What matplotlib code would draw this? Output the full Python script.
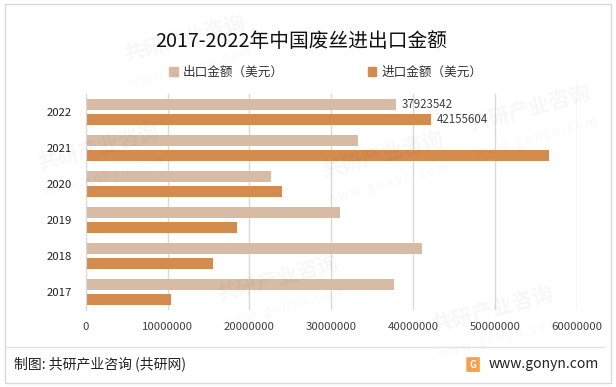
import matplotlib
matplotlib.use('Agg')
import matplotlib.pyplot as plt
import numpy as np
from matplotlib.patches import Rectangle, FancyBboxPatch
from matplotlib.lines import Line2D

plt.rcParams['font.family'] = ['Noto Sans CJK SC', 'DejaVu Sans']

years = ['2017', '2018', '2019', '2020', '2021', '2022']
export_vals = [37600000, 41000000, 31100000, 22600000, 33300000, 37923542]
import_vals = [10400000, 15500000, 18500000, 24000000, 56600000, 42155604]
labels = ['出口金额（美元）', '进口金额（美元）']
title = '2017-2022年中国废丝进出口金额'

C_EXP = '#D7BBA5'
C_IMP = '#D48C4E'

fig = plt.figure(figsize=(6.16, 3.87), dpi=100)
ax = fig.add_axes([0.139, 0.199, 0.798, 0.558])

y = np.arange(len(years))
ax.barh(y + 0.21, export_vals, height=0.30, color=C_EXP, zorder=2, label=labels[0])
ax.barh(y - 0.21, import_vals, height=0.30, color=C_IMP, zorder=2, label=labels[1])

# data labels only on the last year
ax.text(export_vals[-1] + 700000, y[-1] + 0.21, '37923542', va='center', ha='left',
        fontsize=8.3, color='#404040')
ax.text(import_vals[-1] + 700000, y[-1] - 0.21, '42155604', va='center', ha='left',
        fontsize=8.3, color='#404040')

ax.set_xlim(0, 60000000)
ax.set_ylim(-0.5, 5.5)
ax.set_xticks(np.arange(0, 60000001, 10000000))
ax.set_xticklabels([str(v) for v in range(0, 60000001, 10000000)])
ax.set_yticks(y)
ax.set_yticklabels(years)
ax.tick_params(axis='both', length=0, labelsize=8.2, colors='#404040')
ax.tick_params(axis='y', labelcolor='#222222')
ax.tick_params(axis='x', pad=9)
ax.tick_params(axis='y', pad=10)
ax.grid(axis='x', color='#D9D9D9', linewidth=1, zorder=0)
for s in ax.spines.values():
    s.set_visible(False)
ax.spines['left'].set_visible(True)
ax.spines['left'].set_color('#D9D9D9')

fig.text(0.489, 0.892, title, ha='center', va='center', fontsize=14.2, color='#111111')

# legend
handles = [Rectangle((0, 0), 1, 1, color=C_EXP), Rectangle((0, 0), 1, 1, color=C_IMP)]
fig.legend(handles, labels, loc='center', bbox_to_anchor=(0.529, 0.813), ncol=2,
           frameon=False, fontsize=9.1, handlelength=0.7, handleheight=0.7,
           handletextpad=0.4, columnspacing=6.6, labelcolor='#333333')

# faint watermarks
for (wx, wy) in [(0.16, 0.62), (0.45, 0.28), (0.62, 0.6), (0.86, 0.72), (0.3, 0.9), (0.8, 0.2)]:
    fig.text(wx, wy, '共研产业咨询', fontsize=15, fontweight='bold', color='#000000',
             alpha=0.035, rotation=15, ha='center', va='center', zorder=10)
    fig.text(wx + 0.01, wy - 0.075, 'w w w . g o n y n . c o m', fontsize=8.5, color='#000000',
             alpha=0.035, rotation=15, ha='center', va='center', zorder=10)

# border and footer
fig.patches.append(Rectangle((0.008, 0.010), 0.984, 0.980, transform=fig.transFigure,
                             fill=False, edgecolor='#D9D9D9', linewidth=1))
fig.lines.append(Line2D([0.01, 0.98], [0.103, 0.103], transform=fig.transFigure,
                        color='#E3E3E3', linewidth=1))
fig.text(0.023, 0.059, '制图: 共研产业咨询 (共研网)', ha='left', va='center',
         fontsize=10, color='#222222')
fig.patches.append(FancyBboxPatch((0.758, 0.040), 0.020, 0.036, transform=fig.transFigure,
                                  boxstyle='round,pad=0.001', facecolor='#F5A04A',
                                  edgecolor='none'))
fig.text(0.768, 0.058, 'G', ha='center', va='center', fontsize=7, fontweight='bold',
         color='white')
fig.text(0.973, 0.059, 'www.gonyn.com', ha='right', va='center', fontsize=10,
         color='#222222')

fig.savefig('out.png', dpi=100)
